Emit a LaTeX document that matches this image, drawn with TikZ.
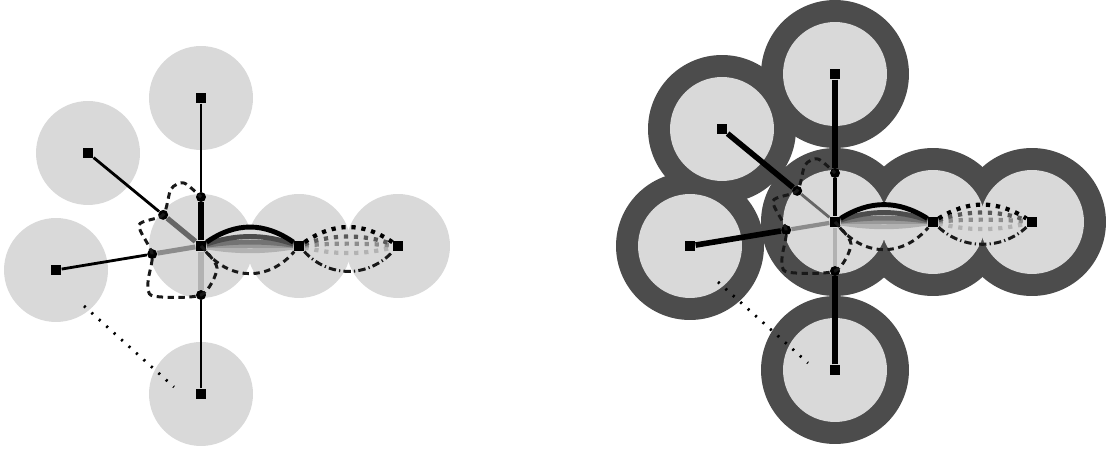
\documentclass[tikz,border=0pt]{standalone}
\usepackage{tikz}
\usetikzlibrary{calc, backgrounds}

\begin{document}
\begin{tikzpicture}[
        x=0.02cm, y=-0.02cm,
        disk/.style={fill=black!15},
        ring/.style={fill=black!70},
        hub/.style={rectangle, fill=black, inner sep=0pt, minimum size=0.21cm},
        joint/.style={circle, fill=black, inner sep=0pt, minimum size=0.2cm},
        lens/.style={line width=2.8pt},
        lensdot/.style={line width=2.4pt, dash pattern=on 2.4pt off 3.3pt},
        loopline/.style={black!90, line width=1.7pt, dash pattern=on 3.6pt off 2.6pt},
        dashdot/.style={black!90, line width=1.7pt, dash pattern=on 4.2pt off 1.8pt on 0.7pt off 1.8pt},
        tether/.style={line width=1.6pt, dash pattern=on 1.2pt off 4.5pt}
    ]
        \useasboundingbox (0,0) rectangle (1107,449);

        % Left panel
        \begin{scope}
        \node[hub] (c)  at (201,246) {};
        \node[hub] (e1) at (299,246) {};
        \node[hub] (e2) at (398,246) {};
        \node[hub] (n)  at (201,98)  {};
        \node[hub] (nw) at (88,153)  {};
        \node[hub] (w)  at (56,270)  {};
        \node[hub] (s)  at (201,394) {};
        \node[joint] (jn)  at ($(c)!0.98cm!(n)$)  {};
        \node[joint] (jnw) at ($(c)!0.98cm!(nw)$) {};
        \node[joint] (jw)  at ($(c)!0.99cm!(w)$)  {};
        \node[joint] (js)  at ($(c)!0.98cm!(s)$)  {};
        \coordinate (t1) at (84,306);
        \coordinate (t2) at (174,387);

        \begin{scope}[on background layer]
            \fill[disk] (c) circle[radius=1.04cm];
            \fill[disk] (e1) circle[radius=1.04cm];
            \fill[disk] (e2) circle[radius=1.04cm];
            \fill[disk] (n) circle[radius=1.04cm];
            \fill[disk] (nw) circle[radius=1.04cm];
            \fill[disk] (w) circle[radius=1.04cm];
            \fill[disk] (s) circle[radius=1.04cm];
        \end{scope}

        % Spokes
        \draw[line width=1.6pt] (n) -- (jn);
        \draw[line width=1.6pt] (nw) -- (jnw);
        \draw[line width=1.6pt] (w) -- (jw);
        \draw[line width=1.6pt] (s) -- (js);
        \draw[line width=3pt, black!30] (js) -- (c);
        \draw[line width=2.8pt, black!45] (jw) -- (c);
        \draw[line width=3pt, black!60] (jnw) -- (c);
        \draw[line width=3pt] (jn) -- (c);
        \draw[tether] (t1) -- (t2);

        % Lens
        \draw[lens, black!30] (c) .. controls +(35,6) and +(-35,6) .. (e1);
        \draw[lens, black!40] (c) .. controls +(35,0) and +(-35,0) .. (e1);
        \draw[lens, black!55] (c) .. controls +(35,-5) and +(-35,-5) .. (e1);
        \draw[lens, black!70] (c) .. controls +(35,-12) and +(-35,-12) .. (e1);
        \draw[lens, black] (c) .. controls +(35,-24) and +(-35,-24) .. (e1);
        \draw[loopline] (c) .. controls +(30,35) and +(-30,35) .. (e1);
        \draw[lensdot, black!30] (e1) .. controls +(35,9) and +(-35,9) .. (e2);
        \draw[lensdot, black!45] (e1) .. controls +(35,-3) and +(-35,-3) .. (e2);
        \draw[lensdot, black!65] (e1) .. controls +(35,-12) and +(-35,-12) .. (e2);
        \draw[lensdot, black] (e1) .. controls +(35,-24) and +(-35,-24) .. (e2);
        \draw[dashdot] (e1) .. controls +(30,32) and +(-30,32) .. (e2);

        % Loop
        \draw[loopline] plot[smooth, tension=0.45] coordinates {(c.center) (217,268) (js.center) (153,296) (148,282) (jw.center) (139,225) (jnw.center) (171,189) (184,183) (jn.center)};
        \end{scope}

        % Right panel
        \begin{scope}[shift={(634,-24)}]
        \node[hub] (c)  at (201,246) {};
        \node[hub] (e1) at (299,246) {};
        \node[hub] (e2) at (398,246) {};
        \node[hub] (n)  at (201,98)  {};
        \node[hub] (nw) at (88,153)  {};
        \node[hub] (w)  at (56,270)  {};
        \node[hub] (s)  at (201,394) {};
        \node[joint] (jn)  at ($(c)!0.98cm!(n)$)  {};
        \node[joint] (jnw) at ($(c)!0.98cm!(nw)$) {};
        \node[joint] (jw)  at ($(c)!0.99cm!(w)$)  {};
        \node[joint] (js)  at ($(c)!0.98cm!(s)$)  {};
        \coordinate (t1) at (84,306);
        \coordinate (t2) at (174,387);

        \begin{scope}[on background layer]
            \fill[ring] (c) circle[radius=1.48cm];
            \fill[ring] (e1) circle[radius=1.48cm];
            \fill[ring] (e2) circle[radius=1.48cm];
            \fill[ring] (n) circle[radius=1.48cm];
            \fill[ring] (nw) circle[radius=1.48cm];
            \fill[ring] (w) circle[radius=1.48cm];
            \fill[ring] (s) circle[radius=1.48cm];
            \fill[disk] (c) circle[radius=1.04cm];
            \fill[disk] (e1) circle[radius=1.04cm];
            \fill[disk] (e2) circle[radius=1.04cm];
            \fill[disk] (n) circle[radius=1.04cm];
            \fill[disk] (nw) circle[radius=1.04cm];
            \fill[disk] (w) circle[radius=1.04cm];
            \fill[disk] (s) circle[radius=1.04cm];
        \end{scope}

        % Spokes
        \draw[line width=3.2pt] (n) -- (jn);
        \draw[line width=3.2pt] (nw) -- (jnw);
        \draw[line width=3.2pt] (w) -- (jw);
        \draw[line width=3.2pt] (s) -- (js);
        \draw[line width=2.8pt, black!30] (js) -- (c);
        \draw[line width=2.4pt, black!45] (jw) -- (c);
        \draw[line width=1.6pt, black!60] (jnw) -- (c);
        \draw[line width=2pt] (jn) -- (c);
        \draw[tether] (t1) -- (t2);

        % Lens
        \draw[lens, black!30] (c) .. controls +(35,6) and +(-35,6) .. (e1);
        \draw[lens, black!40] (c) .. controls +(35,0) and +(-35,0) .. (e1);
        \draw[lens, black!55] (c) .. controls +(35,-5) and +(-35,-5) .. (e1);
        \draw[lens, black!70] (c) .. controls +(35,-12) and +(-35,-12) .. (e1);
        \draw[lens, black] (c) .. controls +(35,-22) and +(-35,-22) .. (e1);
        \draw[loopline] (c) .. controls +(30,35) and +(-30,35) .. (e1);
        \draw[lensdot, black!30] (e1) .. controls +(35,9) and +(-35,9) .. (e2);
        \draw[lensdot, black!45] (e1) .. controls +(35,-3) and +(-35,-3) .. (e2);
        \draw[lensdot, black!65] (e1) .. controls +(35,-12) and +(-35,-12) .. (e2);
        \draw[lensdot, black] (e1) .. controls +(35,-22) and +(-35,-22) .. (e2);
        \draw[dashdot] (e1) .. controls +(30,28) and +(-30,28) .. (e2);

        % Loop
        \draw[loopline] plot[smooth, tension=0.45] coordinates {(c.center) (217,268) (js.center) (153,296) (148,282) (jw.center) (139,225) (jnw.center) (171,189) (184,183) (jn.center)};
        \end{scope}
    \end{tikzpicture}
\end{document}
